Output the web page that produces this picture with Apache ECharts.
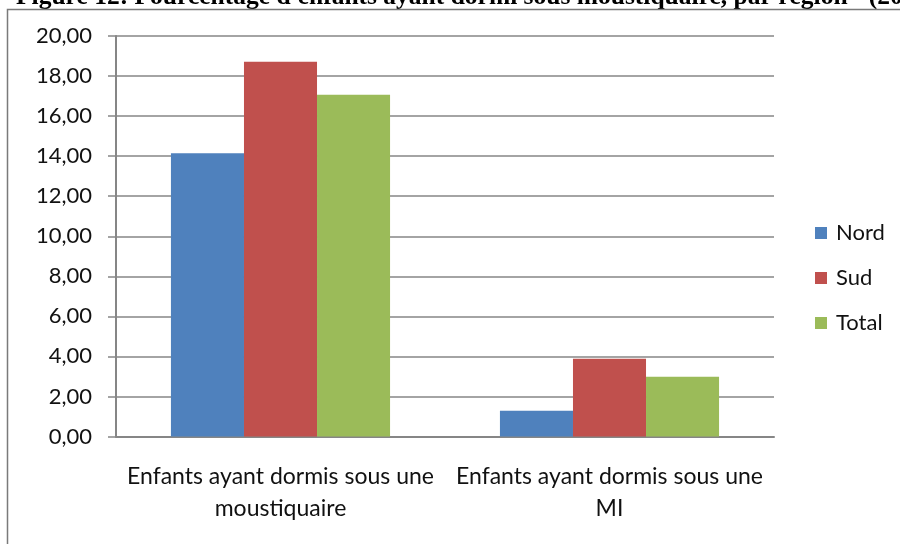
<!DOCTYPE html>
<html>
<head>
<meta charset="utf-8">
<title>Moustiquaire par région</title>
<script src="https://cdn.jsdelivr.net/npm/echarts@6/dist/echarts.min.js"></script>
<style>
  html, body { margin: 0; padding: 0; background: #fff; }
  #chart { width: 900px; height: 544px; }
</style>
</head>
<body>
<div id="chart"></div>
<script>
// catégories (axe X)
var categories = ['Enfants ayant dormis sous une\nmoustiquaire', 'Enfants ayant dormis sous une\nMI'];
// valeurs par région
var nord = [14.15, 1.29];
var sud = [18.71, 3.88];
var total = [17.06, 2.98];
var seriesNames = ['Nord', 'Sud', 'Total'];
var colors = ['#4F81BD', '#C0504D', '#9BBB59'];

// titre coupé en haut de l'image
var titleText = "Figure 12: Pourcentage d'enfants ayant dormi sous moustiquaire, par région - (20";

var myChart = echarts.init(document.getElementById('chart'));
var axisGray = '#868686';
var font = 'Lato, "Open Sans", sans-serif';

myChart.setOption({
    animation: false,
    color: colors,
    graphic: [
        {
            type: 'text',
            left: 16,
            top: -16,
            style: {
                text: titleText,
                font: 'bold 25.5px "Liberation Serif", "DejaVu Serif", serif',
                fill: '#000'
            }
        },
        {
            type: 'rect',
            shape: { x: 7.5, y: 9.5, width: 1000, height: 1000 },
            style: { fill: 'none', stroke: '#7a7a7a', lineWidth: 1.5 },
            silent: true
        }
    ],
    legend: {
        orient: 'vertical',
        left: 810,
        top: 216,
        icon: 'rect',
        itemWidth: 12,
        itemHeight: 12,
        itemGap: 21,
        data: seriesNames,
        textStyle: { fontFamily: font, fontSize: 22, color: '#111', lineHeight: 24, padding: [0, 0, 0, 4] }
    },
    grid: {
        left: 116,
        right: 126,
        top: 36,
        bottom: 107.5
    },
    xAxis: {
        type: 'category',
        data: categories,
        axisLine: { lineStyle: { color: axisGray, width: 2 } },
        axisTick: { length: 8, lineStyle: { color: axisGray, width: 1.5 } },
        axisLabel: {
            fontFamily: font,
            fontSize: 23,
            lineHeight: 32,
            color: '#111',
            margin: 24,
            interval: 0
        }
    },
    yAxis: {
        type: 'value',
        min: 0,
        max: 20,
        interval: 2,
        axisLine: { show: true, lineStyle: { color: axisGray, width: 2 } },
        axisTick: { show: true, length: 8, lineStyle: { color: axisGray, width: 1.5 } },
        splitLine: { lineStyle: { color: axisGray, width: 1.5 } },
        axisLabel: {
            fontFamily: font,
            fontSize: 22,
            color: '#111',
            margin: 24,
            formatter: function (v) { return v.toFixed(2).replace('.', ','); }
        }
    },
    series: [
        { name: seriesNames[0], type: 'bar', data: nord, barGap: '0%', barCategoryGap: '33.4%' },
        { name: seriesNames[1], type: 'bar', data: sud, barGap: '0%', barCategoryGap: '33.4%' },
        { name: seriesNames[2], type: 'bar', data: total, barGap: '0%', barCategoryGap: '33.4%' }
    ]
});
</script>
</body>
</html>
